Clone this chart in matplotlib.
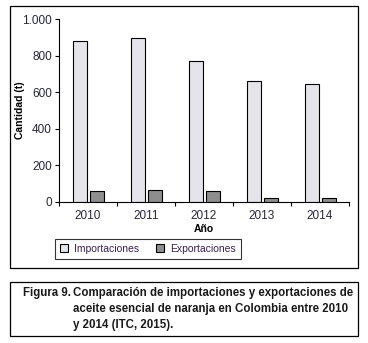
import matplotlib
matplotlib.use("Agg")
import matplotlib.pyplot as plt
from matplotlib.patches import Rectangle
import numpy as np

years = ["2010", "2011", "2012", "2013", "2014"]
importaciones = [880, 895, 770, 660, 645]
exportaciones = [60, 65, 60, 22, 22]
yticks = [0, 200, 400, 600, 800, 1000]
ytick_labels = ["0", "200", "400", "600", "800", "1.000"]
caption = ["Comparación de importaciones y exportaciones de",
           "aceite esencial de naranja en Colombia entre 2010",
           "y 2014 (ITC, 2015)."]

plt.rcParams["font.family"] = ["Liberation Sans Narrow", "Liberation Sans", "DejaVu Sans"]
TXT = "#26263a"
W, H = 368, 343

fig = plt.figure(figsize=(3.68, 3.43), dpi=100)
ax = fig.add_axes([59 / W, 1 - 202 / H, 290 / W, 183 / H])

x = np.arange(len(years))
w = 0.24
ax.bar(x - 0.14, importaciones, w, color="#e4e4ea", edgecolor="black", lw=0.8,
       label="Importaciones")
ax.bar(x + 0.15, exportaciones, w, color="#8e8e8e", edgecolor="black", lw=0.8,
       label="Exportaciones")

ax.set_xlim(-0.5, 4.5)
ax.set_ylim(0, 1000)
ax.set_yticks(yticks)
ax.set_yticklabels(ytick_labels, color=TXT, fontsize=8.5)
ax.set_xticks(x)
ax.set_xticklabels(years, color=TXT, fontsize=8.5)
ax.set_xticks(np.arange(-0.5, 5, 1), minor=True)
ax.tick_params(axis="x", which="major", length=0, pad=6)
ax.tick_params(axis="x", which="minor", length=3, width=0.8)
ax.tick_params(axis="y", length=3, width=0.8, pad=2)
for s in ("top", "right"):
    ax.spines[s].set_visible(False)
for s in ("left", "bottom"):
    ax.spines[s].set_linewidth(0.8)

ax.set_xlabel("Año", fontsize=7.5, fontweight="bold")
ax.xaxis.set_label_coords(0.5, -(229 - 202) / 183, transform=ax.transAxes)
ax.xaxis.label.set_va("center")
ax.set_ylabel("Cantidad (t)", fontsize=7.5, fontweight="bold")
ax.yaxis.set_label_coords(-(59 - 20) / 290, 0.5)
ax.yaxis.label.set_va("center")

leg = fig.legend(loc="center", bbox_to_anchor=(148 / W, 1 - 249 / H), ncol=2,
                 fontsize=7.5, frameon=True, fancybox=False, edgecolor="black",
                 handlelength=0.8, handleheight=0.8, handletextpad=0.6,
                 columnspacing=1.6, borderpad=0.45, borderaxespad=0)
leg.get_frame().set_linewidth(0.8)
for t in leg.get_texts():
    t.set_color("#3a2050")

# outer boxes
fig.patches.append(Rectangle((10 / W, 1 - 268 / H), 348 / W, 262 / H,
                             transform=fig.transFigure, fill=False, lw=0.9,
                             edgecolor="black"))
fig.patches.append(Rectangle((10 / W, 1 - 336 / H), 348 / W, 54 / H,
                             transform=fig.transFigure, fill=False, lw=0.9,
                             edgecolor="black"))

cap = dict(fontsize=9, fontweight="bold", color="#1a1a1a", va="center")
fig.text(23 / W, 1 - 293 / H, "Figura 9.", **cap)
lines = [fig.text(73 / W, 1 - y / H, s, **cap)
         for s, y in zip(caption, [293, 309, 325])]

# shrink caption font so the first line spans ~280 px like the original
r = fig.canvas.get_renderer()
wpx = lines[0].get_window_extent(r).width
size = 9 * 280 / wpx
for t in fig.texts:
    t.set_fontsize(size)

fig.savefig("out.png", dpi=100)
